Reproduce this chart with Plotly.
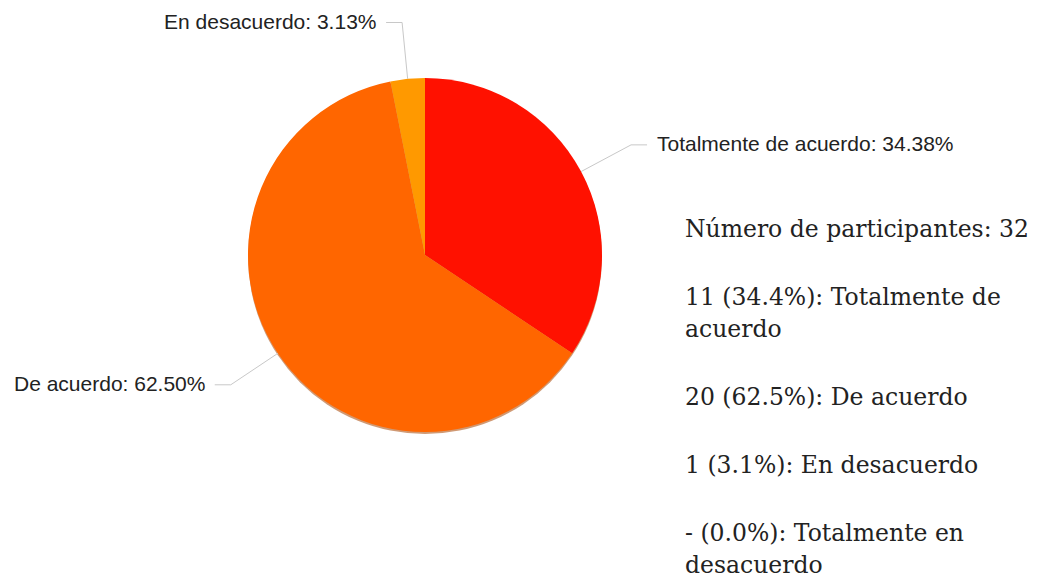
import math
import plotly.graph_objects as go

# data
categories = ["Totalmente de acuerdo", "De acuerdo", "En desacuerdo", "Totalmente en desacuerdo"]
counts = [11, 20, 1, 0]
pct_long = [34.38, 62.50, 3.13, 0.00]
pct_short = [34.4, 62.5, 3.1, 0.0]
colors = ["#ff1100", "#ff6600", "#ff9900", "#dc3912"]
total = sum(counts)

W, H = 1041, 577
OFF = 8  # page body margin
cx, cy, r = 425, 255, 177


def px(x):
    return (x - OFF) / W


def py(y):
    return 1 - (y - OFF) / H


fig = go.Figure()

# soft shadow under the pie
fig.add_trace(go.Pie(
    values=[1], marker=dict(colors=["rgba(170,70,0,0.55)"]),
    textinfo="none", hoverinfo="skip", showlegend=False, sort=False,
    domain=dict(x=[px(cx - r), px(cx + r)], y=[py(cy + r + 2), py(cy - r + 2)]),
))

fig.add_trace(go.Pie(
    labels=categories, values=counts,
    marker=dict(colors=colors),
    sort=False, direction="clockwise", rotation=0,
    textinfo="none", showlegend=False,
    domain=dict(x=[px(cx - r), px(cx + r)], y=[py(cy + r), py(cy - r)]),
))

# outside labels with leader lines
shapes = []
annotations = []
start = 0.0
for name, c, p in zip(categories, counts, pct_long):
    if c == 0:
        continue
    mid = (start + c / 2) / total * 2 * math.pi
    start += c
    sx, sy = math.sin(mid), -math.cos(mid)
    x0, y0 = cx + r * sx, cy + r * sy
    x1, y1 = cx + 1.32 * r * sx, cy + 1.32 * r * sy
    side = 1 if sx >= 0 else -1
    x2 = x1 + 16 * side
    shapes.append(dict(
        type="path", xref="paper", yref="paper",
        path=f"M {px(x0)},{py(y0)} L {px(x1)},{py(y1)} L {px(x2)},{py(y1)}",
        line=dict(color="#c8c8c8", width=1),
    ))
    annotations.append(dict(
        x=px(x2 + 8 * side), y=py(y1 - 1), xref="paper", yref="paper",
        text=f"{name}: {p:.2f}%", showarrow=False,
        xanchor="left" if side > 0 else "right", yanchor="middle",
        font=dict(family="Liberation Sans, Arial", size=21, color="#222222"),
    ))

# summary text on the right
lines = [f"Número de participantes: {total}"]
blocks = []
for name, c, p in zip(categories, counts, pct_short):
    n = str(c) if c else "-"
    blocks.append(f"{n} ({p:.1f}%): {name}")
wrapped = [
    [blocks[0].rsplit(" ", 1)[0], blocks[0].rsplit(" ", 1)[1]],
    [blocks[1]],
    [blocks[2]],
    [blocks[3].rsplit(" ", 1)[0], blocks[3].rsplit(" ", 1)[1]],
]
y = 229
text_rows = [(lines[0], y)]
for para in wrapped:
    y += 68
    for i, ln in enumerate(para):
        text_rows.append((ln, y + 32 * i))
    y += 32 * (len(para) - 1)
for ln, yy in text_rows:
    annotations.append(dict(
        x=px(683), y=py(yy), xref="paper", yref="paper",
        text=ln, showarrow=False, xanchor="left", yanchor="middle",
        font=dict(family="DejaVu Serif", size=23.5, color="#222222"),
    ))

fig.update_layout(
    width=W, height=H, autosize=False,
    margin=dict(l=0, r=0, t=0, b=0),
    paper_bgcolor="white", plot_bgcolor="white",
    shapes=shapes, annotations=annotations,
)

fig.write_html("out.html")
